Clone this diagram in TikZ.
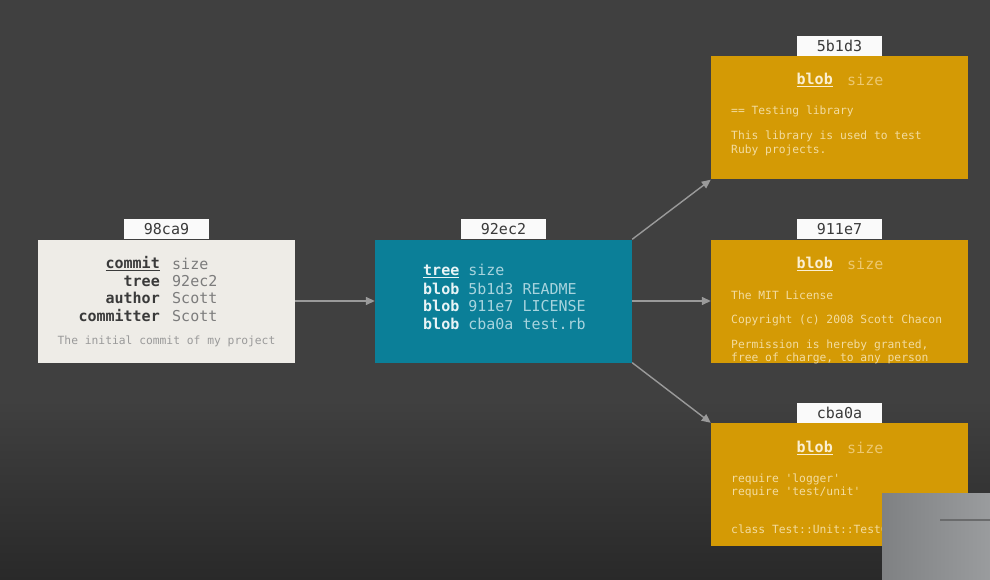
\documentclass[tikz,border=0pt]{standalone}
\usepackage{fontspec}
\setmonofont{DejaVu Sans Mono}
\usetikzlibrary{arrows.meta}
\definecolor{bgtop}{HTML}{404040}
\definecolor{bgbot}{HTML}{292929}
\definecolor{commitfill}{HTML}{EEECE7}
\definecolor{treefill}{HTML}{0B7F98}
\definecolor{blobfill}{HTML}{D49A05}
\definecolor{tabfill}{HTML}{FAFAFA}
\definecolor{keydark}{HTML}{3A3A3A}
\definecolor{valgrey}{HTML}{7C7C7C}
\definecolor{notegrey}{HTML}{9A9A9A}
\definecolor{treekey}{HTML}{E8F4F6}
\definecolor{treeval}{HTML}{A8D4DE}
\definecolor{blobkey}{HTML}{FBEFD2}
\definecolor{blobval}{HTML}{EDC870}
\definecolor{blobtext}{HTML}{F3DCA0}
\definecolor{linkgrey}{HTML}{9A9A9A}
\definecolor{panelleft}{HTML}{7F8183}
\definecolor{panelright}{HTML}{9A9C9E}
\definecolor{panelline}{HTML}{6A6B6C}
\tikzset{
  objbox/.style={draw=none, inner sep=0pt, minimum width=257pt, minimum height=123pt},
  hashtab/.style={fill=tabfill, inner sep=0pt, minimum width=85pt, minimum height=20pt,
    anchor=south, font=\ttfamily\fontsize{15}{17}\selectfont, text=keydark},
  bigmono/.style={inner sep=0pt, font=\ttfamily\fontsize{15}{17}\selectfont},
  smallmono/.style={inner sep=0pt, anchor=west, font=\ttfamily\fontsize{11.3}{13}\selectfont, text=blobtext},
  link/.style={draw=linkgrey, line width=1.4pt, -{Triangle[length=9pt,width=8pt]}}
}
\begin{document}
\begin{tikzpicture}[x=1pt,y=-1pt]
  % backdrop with darker lower part
  \fill[bgtop] (0,0) rectangle (990,580);
  \shade[top color=bgtop, bottom color=bgbot] (0,400) rectangle (990,580);
  \useasboundingbox (0,0) rectangle (990,580);

  % object boxes
  \node[objbox, fill=commitfill] (commit) at (166.5,301) {};
  \node[objbox, fill=treefill]   (tree)   at (503.5,301) {};
  \node[objbox, fill=blobfill]   (readme) at (839.5,118) {};
  \node[objbox, fill=blobfill]   (license) at (839.5,301) {};
  \node[objbox, fill=blobfill]   (testrb) at (839.5,484.5) {};

  % hash tabs
  \node[hashtab] (commitid)  at (commit.north)  {98ca9};
  \node[hashtab] (treeid)    at (tree.north)    {92ec2};
  \node[hashtab] (readmeid)  at (readme.north)  {5b1d3};
  \node[hashtab] (licenseid) at (license.north) {911e7};
  \node[hashtab] (testrbid)  at (testrb.north)  {cba0a};

  % commit contents
  \node[bigmono, anchor=east, text=keydark] (ck1) at (160,264) {\underline{\textbf{commit}}};
  \node[bigmono, anchor=east, text=keydark] (ck2) at (160,281) {\textbf{tree}};
  \node[bigmono, anchor=east, text=keydark] (ck3) at (160,298) {\textbf{author}};
  \node[bigmono, anchor=east, text=keydark] (ck4) at (160,316) {\textbf{committer}};
  \node[bigmono, anchor=west, text=valgrey] (cv1) at (172,264) {size};
  \node[bigmono, anchor=west, text=valgrey] (cv2) at (172,281) {92ec2};
  \node[bigmono, anchor=west, text=valgrey] (cv3) at (172,298) {Scott};
  \node[bigmono, anchor=west, text=valgrey] (cv4) at (172,316) {Scott};
  \node[smallmono, anchor=center, text=notegrey] (cmsg) at (166.5,341) {The initial commit of my project};

  % tree contents
  \node[bigmono, anchor=west] (t1) at (423,271) {\textcolor{treekey}{\underline{\textbf{tree}}} \textcolor{treeval}{size}};
  \node[bigmono, anchor=west] (t2) at (423,289) {\textcolor{treekey}{\textbf{blob}} \textcolor{treeval}{5b1d3 README}};
  \node[bigmono, anchor=west] (t3) at (423,306) {\textcolor{treekey}{\textbf{blob}} \textcolor{treeval}{911e7 LICENSE}};
  \node[bigmono, anchor=west] (t4) at (423,324) {\textcolor{treekey}{\textbf{blob}} \textcolor{treeval}{cba0a test.rb}};

  % blob 5b1d3
  \node[bigmono, anchor=east, text=blobkey] (r1) at (833,80) {\underline{\textbf{blob}}};
  \node[bigmono, anchor=west, text=blobval] (r2) at (847,80) {size};
  \node[smallmono] (r3) at (731,111) {== Testing library};
  \node[smallmono] (r4) at (731,136) {This library is used to test};
  \node[smallmono] (r5) at (731,150) {Ruby projects.};

  % blob 911e7
  \node[bigmono, anchor=east, text=blobkey] (l1) at (833,264) {\underline{\textbf{blob}}};
  \node[bigmono, anchor=west, text=blobval] (l2) at (847,264) {size};
  \node[smallmono] (l3) at (731,295) {The MIT License};
  \node[smallmono] (l4) at (731,320) {Copyright (c) 2008 Scott Chacon};
  \node[smallmono] (l5) at (731,345) {Permission is hereby granted,};
  \node[smallmono] (l6) at (731,358) {free of charge, to any person};

  % blob cba0a
  \node[bigmono, anchor=east, text=blobkey] (s1) at (833,448) {\underline{\textbf{blob}}};
  \node[bigmono, anchor=west, text=blobval] (s2) at (847,448) {size};
  \node[smallmono] (s3) at (731,479) {require 'logger'};
  \node[smallmono] (s4) at (731,492) {require 'test/unit'};
  \node[smallmono] (s5) at (731,529) {class Test::Unit::TestCase};

  % links
  \draw[link] (commit.east) -- (tree.west);
  \draw[link] (tree.north east) -- (readme.south west);
  \draw[link] (tree.east) -- (license.west);
  \draw[link] (tree.south east) -- (testrb.north west);

  % grey panel in the lower right corner
  \shade[left color=panelleft, right color=panelright] (882,493) rectangle (990,580);
  \draw[panelline, line width=2pt] (940,520) -- (990,520);
\end{tikzpicture}
\end{document}
